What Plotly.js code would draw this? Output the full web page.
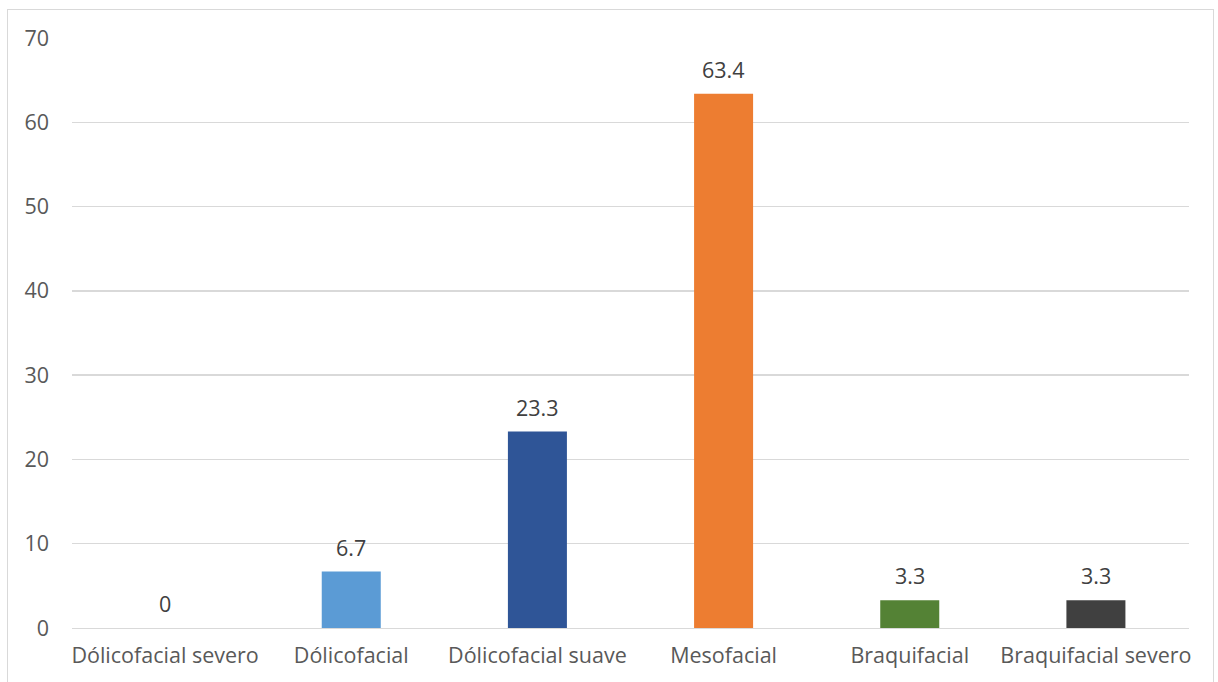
<!DOCTYPE html>
<html>
<head>
<meta charset="utf-8">
<script src="https://cdn.plot.ly/plotly-3.0.1.min.js"></script>
<style>
  html, body { margin: 0; padding: 0; background: #fff; }
  #frame { position: absolute; left: 7px; top: 9px; width: 1207px; height: 700px;
           border: 1px solid #d9d9d9; box-sizing: border-box; pointer-events: none; }
  #chart { width: 1218px; height: 682px; }
</style>
</head>
<body>
<div id="chart"></div>
<div id="frame"></div>
<script>
// Facial type distribution (%)
const categories = ['Dólicofacial severo', 'Dólicofacial', 'Dólicofacial suave',
                    'Mesofacial', 'Braquifacial', 'Braquifacial severo'];
const values = [0, 6.7, 23.3, 63.4, 3.3, 3.3];
const barColors = ['#4472C4', '#5B9BD5', '#2F5597', '#ED7D31', '#548235', '#404040'];
const yTicks = [0, 10, 20, 30, 40, 50, 60, 70];

const fontFamily = '"Open Sans", "Noto Sans", sans-serif';
const textColor = '#595959';
const fontSize = 21.5;

const trace = {
  type: 'bar',
  x: categories,
  y: values,
  marker: { color: barColors },
  hoverinfo: 'skip'
};

// value labels above each bar
const labels = categories.map((c, i) => ({
  x: c, y: values[i], xref: 'x', yref: 'y',
  text: String(values[i]), showarrow: false,
  yanchor: 'bottom', yshift: 8,
  font: { family: fontFamily, size: fontSize, color: '#404040' }
}));

const layout = {
  width: 1218, height: 682,
  margin: { l: 72, r: 29, t: 38, b: 54 },
  paper_bgcolor: '#fff', plot_bgcolor: '#fff',
  bargap: 0.683,
  showlegend: false,
  font: { family: fontFamily, size: fontSize, color: textColor },
  xaxis: {
    type: 'category',
    showgrid: false,
    showline: true, linecolor: '#d9d9d9', linewidth: 1.3,
    ticks: '', ticklabelstandoff: 8,
    tickfont: { family: fontFamily, size: fontSize, color: textColor },
    fixedrange: true
  },
  yaxis: {
    range: [0, 70],
    tickvals: yTicks,
    ticktext: yTicks.map(String),
    showgrid: true, gridcolor: '#d9d9d9', gridwidth: 1.3,
    zeroline: false, showline: false,
    ticks: '', ticklabelstandoff: 22,
    tickfont: { family: fontFamily, size: fontSize, color: textColor },
    fixedrange: true
  },
  annotations: labels
};

Plotly.newPlot('chart', [trace], layout, { displayModeBar: false, staticPlot: true });
</script>
</body>
</html>
